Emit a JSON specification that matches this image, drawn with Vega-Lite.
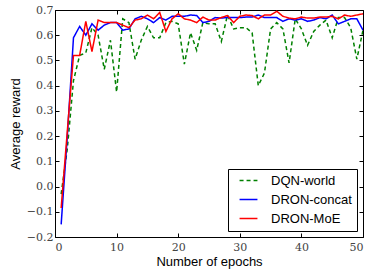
{
  "$schema": "https://vega.github.io/schema/vega-lite/v6.json",
  "width": 308,
  "height": 227,
  "autosize": {"type": "none"},
  "padding": {"left": 55, "top": 10, "right": 2, "bottom": 32},
  "background": "white",
  "config": {
    "view": {"stroke": "black", "strokeWidth": 1},
    "axis": {
      "grid": false,
      "domain": false,
      "tickColor": "black",
      "tickSize": -4,
      "labelFont": "DejaVu Serif",
      "labelFontSize": 11,
      "labelColor": "#444444",
      "titleFont": "Liberation Sans",
      "titleFontSize": 13,
      "titleFontWeight": "normal",
      "titleColor": "black"
    }
  },
  "data": {"name": "d"},
  "datasets": {
    "d": [
      {"epoch":1,"series":"DQN-world","reward":-0.03},
      {"epoch":2,"series":"DQN-world","reward":0.15},
      {"epoch":3,"series":"DQN-world","reward":0.42},
      {"epoch":4,"series":"DQN-world","reward":0.52},
      {"epoch":5,"series":"DQN-world","reward":0.53},
      {"epoch":6,"series":"DQN-world","reward":0.63},
      {"epoch":7,"series":"DQN-world","reward":0.6},
      {"epoch":8,"series":"DQN-world","reward":0.465},
      {"epoch":9,"series":"DQN-world","reward":0.58},
      {"epoch":10,"series":"DQN-world","reward":0.375},
      {"epoch":11,"series":"DQN-world","reward":0.665},
      {"epoch":12,"series":"DQN-world","reward":0.65},
      {"epoch":13,"series":"DQN-world","reward":0.505},
      {"epoch":14,"series":"DQN-world","reward":0.58},
      {"epoch":15,"series":"DQN-world","reward":0.635},
      {"epoch":16,"series":"DQN-world","reward":0.59},
      {"epoch":17,"series":"DQN-world","reward":0.59},
      {"epoch":18,"series":"DQN-world","reward":0.65},
      {"epoch":19,"series":"DQN-world","reward":0.655},
      {"epoch":20,"series":"DQN-world","reward":0.645},
      {"epoch":21,"series":"DQN-world","reward":0.485},
      {"epoch":22,"series":"DQN-world","reward":0.61},
      {"epoch":23,"series":"DQN-world","reward":0.54},
      {"epoch":24,"series":"DQN-world","reward":0.65},
      {"epoch":25,"series":"DQN-world","reward":0.645},
      {"epoch":26,"series":"DQN-world","reward":0.645},
      {"epoch":27,"series":"DQN-world","reward":0.575},
      {"epoch":28,"series":"DQN-world","reward":0.68},
      {"epoch":29,"series":"DQN-world","reward":0.625},
      {"epoch":30,"series":"DQN-world","reward":0.63},
      {"epoch":31,"series":"DQN-world","reward":0.63},
      {"epoch":32,"series":"DQN-world","reward":0.61},
      {"epoch":33,"series":"DQN-world","reward":0.4},
      {"epoch":34,"series":"DQN-world","reward":0.45},
      {"epoch":35,"series":"DQN-world","reward":0.625},
      {"epoch":36,"series":"DQN-world","reward":0.65},
      {"epoch":37,"series":"DQN-world","reward":0.625},
      {"epoch":38,"series":"DQN-world","reward":0.49},
      {"epoch":39,"series":"DQN-world","reward":0.665},
      {"epoch":40,"series":"DQN-world","reward":0.625},
      {"epoch":41,"series":"DQN-world","reward":0.56},
      {"epoch":42,"series":"DQN-world","reward":0.615},
      {"epoch":43,"series":"DQN-world","reward":0.64},
      {"epoch":44,"series":"DQN-world","reward":0.66},
      {"epoch":45,"series":"DQN-world","reward":0.59},
      {"epoch":46,"series":"DQN-world","reward":0.67},
      {"epoch":47,"series":"DQN-world","reward":0.67},
      {"epoch":48,"series":"DQN-world","reward":0.63},
      {"epoch":49,"series":"DQN-world","reward":0.505},
      {"epoch":50,"series":"DQN-world","reward":0.62},
      {"epoch":1,"series":"DRON-concat","reward":-0.15},
      {"epoch":2,"series":"DRON-concat","reward":0.2},
      {"epoch":3,"series":"DRON-concat","reward":0.59},
      {"epoch":4,"series":"DRON-concat","reward":0.635},
      {"epoch":5,"series":"DRON-concat","reward":0.6},
      {"epoch":6,"series":"DRON-concat","reward":0.645},
      {"epoch":7,"series":"DRON-concat","reward":0.62},
      {"epoch":8,"series":"DRON-concat","reward":0.64},
      {"epoch":9,"series":"DRON-concat","reward":0.65},
      {"epoch":10,"series":"DRON-concat","reward":0.65},
      {"epoch":11,"series":"DRON-concat","reward":0.62},
      {"epoch":12,"series":"DRON-concat","reward":0.625},
      {"epoch":13,"series":"DRON-concat","reward":0.665},
      {"epoch":14,"series":"DRON-concat","reward":0.675},
      {"epoch":15,"series":"DRON-concat","reward":0.665},
      {"epoch":16,"series":"DRON-concat","reward":0.65},
      {"epoch":17,"series":"DRON-concat","reward":0.67},
      {"epoch":18,"series":"DRON-concat","reward":0.66},
      {"epoch":19,"series":"DRON-concat","reward":0.675},
      {"epoch":20,"series":"DRON-concat","reward":0.675},
      {"epoch":21,"series":"DRON-concat","reward":0.675},
      {"epoch":22,"series":"DRON-concat","reward":0.68},
      {"epoch":23,"series":"DRON-concat","reward":0.678},
      {"epoch":24,"series":"DRON-concat","reward":0.65},
      {"epoch":25,"series":"DRON-concat","reward":0.655},
      {"epoch":26,"series":"DRON-concat","reward":0.67},
      {"epoch":27,"series":"DRON-concat","reward":0.668},
      {"epoch":28,"series":"DRON-concat","reward":0.67},
      {"epoch":29,"series":"DRON-concat","reward":0.67},
      {"epoch":30,"series":"DRON-concat","reward":0.67},
      {"epoch":31,"series":"DRON-concat","reward":0.672},
      {"epoch":32,"series":"DRON-concat","reward":0.672},
      {"epoch":33,"series":"DRON-concat","reward":0.68},
      {"epoch":34,"series":"DRON-concat","reward":0.67},
      {"epoch":35,"series":"DRON-concat","reward":0.67},
      {"epoch":36,"series":"DRON-concat","reward":0.67},
      {"epoch":37,"series":"DRON-concat","reward":0.655},
      {"epoch":38,"series":"DRON-concat","reward":0.665},
      {"epoch":39,"series":"DRON-concat","reward":0.66},
      {"epoch":40,"series":"DRON-concat","reward":0.665},
      {"epoch":41,"series":"DRON-concat","reward":0.655},
      {"epoch":42,"series":"DRON-concat","reward":0.66},
      {"epoch":43,"series":"DRON-concat","reward":0.67},
      {"epoch":44,"series":"DRON-concat","reward":0.665},
      {"epoch":45,"series":"DRON-concat","reward":0.68},
      {"epoch":46,"series":"DRON-concat","reward":0.645},
      {"epoch":47,"series":"DRON-concat","reward":0.655},
      {"epoch":48,"series":"DRON-concat","reward":0.665},
      {"epoch":49,"series":"DRON-concat","reward":0.665},
      {"epoch":50,"series":"DRON-concat","reward":0.62},
      {"epoch":1,"series":"DRON-MoE","reward":-0.085},
      {"epoch":2,"series":"DRON-MoE","reward":0.22},
      {"epoch":3,"series":"DRON-MoE","reward":0.52},
      {"epoch":4,"series":"DRON-MoE","reward":0.52},
      {"epoch":5,"series":"DRON-MoE","reward":0.655},
      {"epoch":6,"series":"DRON-MoE","reward":0.535},
      {"epoch":7,"series":"DRON-MoE","reward":0.66},
      {"epoch":8,"series":"DRON-MoE","reward":0.65},
      {"epoch":9,"series":"DRON-MoE","reward":0.65},
      {"epoch":10,"series":"DRON-MoE","reward":0.65},
      {"epoch":11,"series":"DRON-MoE","reward":0.64},
      {"epoch":12,"series":"DRON-MoE","reward":0.63},
      {"epoch":13,"series":"DRON-MoE","reward":0.66},
      {"epoch":14,"series":"DRON-MoE","reward":0.665},
      {"epoch":15,"series":"DRON-MoE","reward":0.68},
      {"epoch":16,"series":"DRON-MoE","reward":0.665},
      {"epoch":17,"series":"DRON-MoE","reward":0.69},
      {"epoch":18,"series":"DRON-MoE","reward":0.615},
      {"epoch":19,"series":"DRON-MoE","reward":0.665},
      {"epoch":20,"series":"DRON-MoE","reward":0.685},
      {"epoch":21,"series":"DRON-MoE","reward":0.665},
      {"epoch":22,"series":"DRON-MoE","reward":0.66},
      {"epoch":23,"series":"DRON-MoE","reward":0.65},
      {"epoch":24,"series":"DRON-MoE","reward":0.672},
      {"epoch":25,"series":"DRON-MoE","reward":0.66},
      {"epoch":26,"series":"DRON-MoE","reward":0.66},
      {"epoch":27,"series":"DRON-MoE","reward":0.67},
      {"epoch":28,"series":"DRON-MoE","reward":0.678},
      {"epoch":29,"series":"DRON-MoE","reward":0.65},
      {"epoch":30,"series":"DRON-MoE","reward":0.675},
      {"epoch":31,"series":"DRON-MoE","reward":0.68},
      {"epoch":32,"series":"DRON-MoE","reward":0.678},
      {"epoch":33,"series":"DRON-MoE","reward":0.665},
      {"epoch":34,"series":"DRON-MoE","reward":0.68},
      {"epoch":35,"series":"DRON-MoE","reward":0.68},
      {"epoch":36,"series":"DRON-MoE","reward":0.695},
      {"epoch":37,"series":"DRON-MoE","reward":0.675},
      {"epoch":38,"series":"DRON-MoE","reward":0.668},
      {"epoch":39,"series":"DRON-MoE","reward":0.665},
      {"epoch":40,"series":"DRON-MoE","reward":0.672},
      {"epoch":41,"series":"DRON-MoE","reward":0.668},
      {"epoch":42,"series":"DRON-MoE","reward":0.668},
      {"epoch":43,"series":"DRON-MoE","reward":0.672},
      {"epoch":44,"series":"DRON-MoE","reward":0.672},
      {"epoch":45,"series":"DRON-MoE","reward":0.675},
      {"epoch":46,"series":"DRON-MoE","reward":0.665},
      {"epoch":47,"series":"DRON-MoE","reward":0.68},
      {"epoch":48,"series":"DRON-MoE","reward":0.675},
      {"epoch":49,"series":"DRON-MoE","reward":0.68},
      {"epoch":50,"series":"DRON-MoE","reward":0.685}
    ]
  },
  "resolve": {"axis": {"x": "independent", "y": "independent"}},
  "layer": [
    {
      "mark": {"type": "line", "strokeWidth": 1.5, "clip": true},
      "encoding": {
        "x": {"field": "epoch", "type": "quantitative", "scale": {"domain": [0, 50], "nice": false},
              "axis": {"orient": "bottom", "values": [0, 10, 20, 30, 40, 50], "title": "Number of epochs", "labelPadding": 8, "titlePadding": 3}},
        "y": {"field": "reward", "type": "quantitative", "scale": {"domain": [-0.2, 0.7], "nice": false, "zero": false},
              "axis": {"orient": "left", "values": [-0.2, -0.1, 0, 0.1, 0.2, 0.3, 0.4, 0.5, 0.6, 0.7], "format": ".1f", "title": "Average reward", "labelPadding": 6, "titlePadding": 4}},
        "color": {"field": "series", "type": "nominal",
                  "scale": {"domain": ["DQN-world", "DRON-concat", "DRON-MoE"], "range": ["#008000", "#0000ff", "#ff0000"]},
                  "legend": {"title": null, "orient": "bottom-right", "offset": 6, "strokeColor": "black", "fillColor": "white",
                             "padding": 5, "symbolType": "M-1.6,0H1.6", "symbolSize": 125, "symbolStrokeWidth": 1.5,
                             "labelFont": "Liberation Sans", "labelFontSize": 13, "labelColor": "black", "rowPadding": 5, "symbolOffset": 9, "labelOffset": 16}},
        "strokeDash": {"field": "series", "type": "nominal",
                       "scale": {"domain": ["DQN-world", "DRON-concat", "DRON-MoE"], "range": [[4, 3], [1, 0], [1, 0]]},
                       "legend": {"title": null, "orient": "bottom-right"}},
        "order": {"field": "epoch"}
      }
    },
    {
      "mark": {"type": "rule", "opacity": 0},
      "encoding": {
        "x": {"field": "epoch", "type": "quantitative", "scale": {"domain": [0, 50], "nice": false},
              "axis": {"orient": "top", "values": [0, 10, 20, 30, 40, 50], "labels": false, "title": null}},
        "y": {"field": "reward", "type": "quantitative", "scale": {"domain": [-0.2, 0.7], "nice": false, "zero": false},
              "axis": {"orient": "right", "values": [-0.2, -0.1, 0, 0.1, 0.2, 0.3, 0.4, 0.5, 0.6, 0.7], "labels": false, "title": null}}
      }
    }
  ]
}
